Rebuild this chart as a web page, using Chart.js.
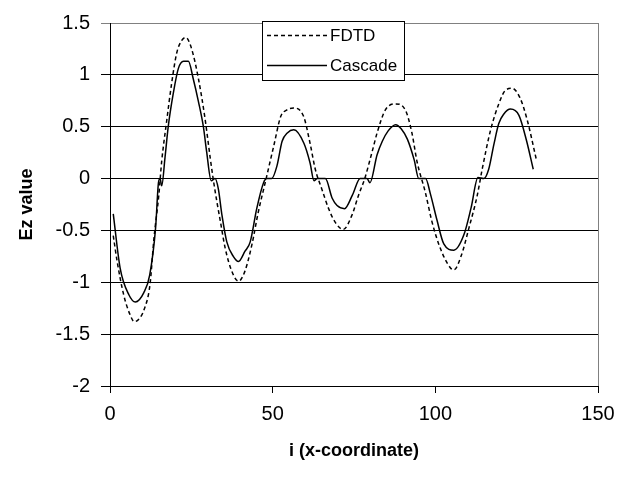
<!DOCTYPE html>
<html>
<head>
<meta charset="utf-8">
<script src="https://cdn.jsdelivr.net/npm/chart.js@4/dist/chart.umd.min.js"></script>
<style>
html,body{margin:0;padding:0;background:#fff;}
canvas{display:block;}
</style>
</head>
<body>
<canvas id="c" width="627" height="477"></canvas>
<script>
// ---- data ----
const fdtdX = [1, 2.2, 4.2, 6, 7.5, 9, 10.4, 12.3, 13.5, 15, 15.9, 17.4, 19, 20.5, 22, 23.3, 25, 27.2, 29.2, 30.8, 31.8, 33, 33.8, 35.4, 37.4, 39.5, 41.5, 43.6, 45.6, 47.7, 50.3, 52.5, 54.3, 56.4, 59.5, 61.5, 63.1, 65.1, 67.2, 69.2, 71.7, 74.4, 76.4, 78.3, 80.5, 82.1, 84.6, 87.8, 90.8, 92.8, 94.4, 96.9, 99, 101.5, 104.6, 105.7, 108, 110.3, 112.9, 114.4, 117, 119.5, 121.5, 123.6, 126, 128.2, 131];
const fdtdY = [-0.55, -0.80, -1.12, -1.30, -1.38, -1.35, -1.27, -1.02, -0.58, -0.16, 0.17, 0.55, 0.93, 1.21, 1.33, 1.36, 1.26, 0.96, 0.58, 0.20, -0.02, -0.25, -0.39, -0.67, -0.89, -0.99, -0.89, -0.64, -0.32, -0.04, 0.31, 0.60, 0.66, 0.68, 0.60, 0.34, 0.09, -0.10, -0.29, -0.42, -0.49, -0.35, -0.16, 0, 0.25, 0.44, 0.66, 0.72, 0.66, 0.44, 0.16, -0.13, -0.42, -0.67, -0.86, -0.88, -0.74, -0.48, -0.16, 0.09, 0.47, 0.72, 0.85, 0.87, 0.78, 0.57, 0.19];
const cascadeX = [1, 3.1, 5.8, 7.8, 10.4, 12.2, 14, 14.9, 15.4, 15.9, 16.9, 17.9, 19.5, 21, 22.6, 24.1, 25.6, 27.2, 28.7, 29.7, 31.1, 32.3, 33.3, 34.4, 35.9, 37.9, 39.5, 41.5, 43.1, 45.1, 47.2, 48.2, 49.7, 51.3, 52.9, 54.5, 56.5, 59.6, 61.5, 62.7, 63.7, 66.2, 68.3, 69.8, 72.1, 74.5, 76.9, 79, 79.9, 82.1, 83.7, 85.5, 87.8, 89.5, 91.4, 93.5, 94.9, 97, 98.5, 100.5, 102.6, 105.7, 108.8, 111, 113.1, 114.9, 116.4, 118, 119.5, 121, 123.1, 125.7, 128, 130.1];
const cascadeY = [-0.34, -0.86, -1.12, -1.19, -1.10, -0.93, -0.48, -0.04, 0, -0.07, 0.20, 0.50, 0.83, 1.06, 1.13, 1.13, 0.96, 0.74, 0.50, 0.26, -0.02, 0, -0.10, -0.35, -0.61, -0.75, -0.80, -0.70, -0.61, -0.29, -0.04, 0, 0, 0.12, 0.36, 0.44, 0.47, 0.34, 0.15, -0.02, 0, 0, -0.19, -0.26, -0.29, -0.16, 0, 0, -0.04, 0.23, 0.36, 0.46, 0.52, 0.48, 0.38, 0.18, 0, 0, -0.15, -0.40, -0.63, -0.69, -0.54, -0.28, 0.01, 0, 0.09, 0.33, 0.53, 0.62, 0.67, 0.61, 0.37, 0.09];
const seriesNames = ['FDTD', 'Cascade'];
const xTicks = [0, 50, 100, 150];
const yTicks = [1.5, 1, 0.5, 0, -0.5, -1, -1.5, -2];
const xTitle = 'i (x-coordinate)';
const yTitle = 'Ez value';

const FONT = "'Liberation Sans', Arial, sans-serif";
const toPts = (xs, ys) => xs.map((x, i) => ({x: x, y: ys[i]}));

const decor = {
  id: 'decor',
  afterDraw(chart) {
    const {ctx, chartArea: a} = chart;
    ctx.save();
    // right border of plot area
    ctx.strokeStyle = '#808080';
    ctx.lineWidth = 1;
    const rx = Math.round(a.right) + 0.5;
    ctx.beginPath(); ctx.moveTo(rx, a.top); ctx.lineTo(rx, a.bottom); ctx.stroke();
    // legend box
    const bx = 262.5, by = 21.5, bw = 142, bh = 59;
    ctx.fillStyle = '#fff';
    ctx.fillRect(bx, by, bw, bh);
    ctx.strokeStyle = '#000';
    ctx.strokeRect(bx, by, bw, bh);
    const rows = [35, 65];
    chart.data.datasets.forEach((ds, i) => {
      const y = rows[i] + 0.5;
      ctx.strokeStyle = ds.borderColor;
      ctx.lineWidth = ds.borderWidth;
      ctx.setLineDash(ds.borderDash || []);
      ctx.beginPath(); ctx.moveTo(267, y); ctx.lineTo(327, y); ctx.stroke();
      ctx.setLineDash([]);
      ctx.fillStyle = '#000';
      ctx.font = '17px ' + FONT;
      ctx.textBaseline = 'middle';
      ctx.textAlign = 'left';
      ctx.fillText(ds.label, 330, rows[i] + 1);
    });
    ctx.restore();
  }
};

new Chart(document.getElementById('c'), {
  type: 'line',
  data: {
    datasets: [
      {label: seriesNames[0], data: toPts(fdtdX, fdtdY), borderColor: '#000', borderWidth: 1.5, borderDash: [4, 3], pointRadius: 0, cubicInterpolationMode: 'monotone', fill: false},
      {label: seriesNames[1], data: toPts(cascadeX, cascadeY), borderColor: '#000', borderWidth: 1.5, pointRadius: 0, cubicInterpolationMode: 'monotone', fill: false}
    ]
  },
  options: {
    responsive: false,
    animation: false,
    devicePixelRatio: 1,
    layout: {padding: {left: 0, right: 29, top: 18, bottom: 0}},
    plugins: {legend: {display: false}, tooltip: {enabled: false}},
    scales: {
      x: {
        type: 'linear', min: 0, max: 150,
        afterBuildTicks: s => { s.ticks = xTicks.map(v => ({value: v})); },
        afterFit: s => { s.height = 91; },
        grid: {drawOnChartArea: false, drawTicks: true, tickLength: 7, color: '#000'},
        border: {display: true, color: '#000', width: 1},
        ticks: {color: '#000', font: {family: FONT, size: 20}, padding: 9, maxRotation: 0, callback: v => String(v)},
        title: {display: true, text: xTitle, color: '#000', font: {family: FONT, size: 18, weight: 'bold'}, padding: {top: 0, bottom: 15}}
      },
      y: {
        type: 'linear', min: -2, max: 1.5,
        afterBuildTicks: s => { s.ticks = yTicks.map(v => ({value: v})); },
        afterFit: s => { s.width = 110; },
        grid: {drawOnChartArea: true, drawTicks: true, tickLength: 9, color: c => (c.tick && c.tick.value === 1.5) ? '#808080' : '#000', lineWidth: 1},
        border: {display: true, color: '#000', width: 1},
        ticks: {color: '#000', font: {family: FONT, size: 20}, padding: 11, callback: v => String(v)},
        title: {display: true, text: yTitle, color: '#000', font: {family: FONT, size: 18, weight: 'bold'}, padding: {top: 16, bottom: 0}}
      }
    }
  },
  plugins: [decor]
});
</script>
</body>
</html>
